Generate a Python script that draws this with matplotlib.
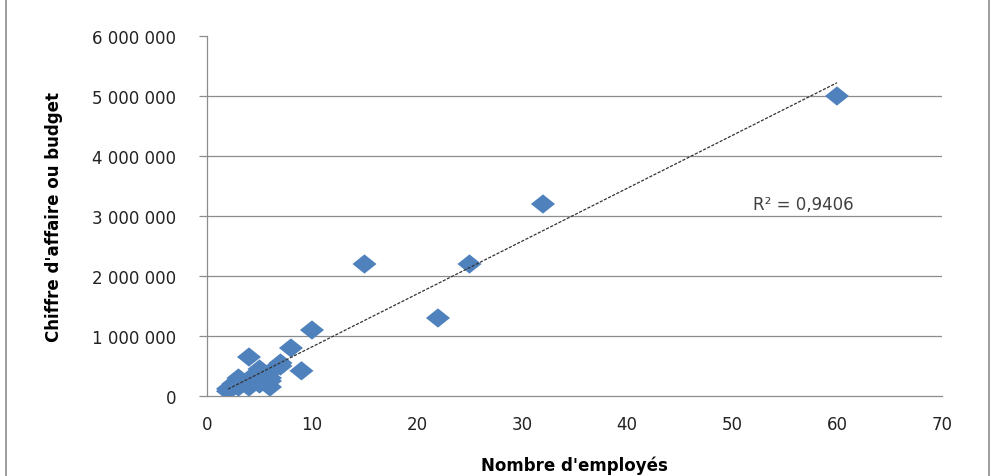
import numpy as np
import matplotlib.pyplot as plt
from matplotlib.lines import Line2D

plt.rcParams['font.family'] = ['DejaVu Sans']

# Data
employes = [2, 2, 2.5, 3, 3, 3, 4, 4, 4, 5, 5, 5, 5.5, 6, 6, 6, 6, 7, 7, 8, 9, 10, 15, 22, 25, 32, 60]
budget_m = [0.08, 0.12, 0.2, 0.3, 0.15, 0.25, 0.65, 0.15, 0.28, 0.45, 0.3, 0.2, 0.35, 0.15, 0.3,
            0.4, 0.25, 0.5, 0.55, 0.8, 0.42, 1.1, 2.2, 1.3, 2.2, 3.2, 5.0]
r2_label = "R² = 0,9406"

x = np.array(employes)
y = np.array(budget_m) * 1e6

fig = plt.figure(figsize=(9.97, 4.77), dpi=100)
ax = fig.add_axes([0.2076, 0.1677, 0.7372, 0.7547])

# Excel-like diamond, a bit wider than tall
diamond = [(-1, 0), (0, 0.8), (1, 0), (0, -0.8), (-1, 0)]
ax.scatter(x, y, marker=diamond, s=300, color='#4F81BD', edgecolors='none', zorder=3)

# linear trendline
a, b = np.polyfit(x, y, 1)
xs = np.array([x.min(), x.max()])
ax.plot(xs, a * xs + b, color='#333333', lw=0.9, ls=(0, (2.5, 1.2)), zorder=4)

ax.text(56.8, 3.2e6, r2_label, fontsize=12, color='#404040', ha='center', va='center')

ax.set_xlim(0, 70)
ax.set_ylim(0, 6e6)
ax.set_xticks(range(0, 71, 10))
ax.set_xticks([0], minor=True)
ax.set_yticks(np.arange(0, 6.01e6, 1e6))
ax.set_yticklabels([f"{int(v):,}".replace(",", " ") for v in np.arange(0, 6.01e6, 1e6)])
for v in np.arange(1e6, 5.01e6, 1e6):
    ax.axhline(v, color='#8c8c8c', lw=0.9, zorder=1)

for s in ['top', 'right']:
    ax.spines[s].set_visible(False)
for s in ['left', 'bottom']:
    ax.spines[s].set_color('#8c8c8c')
    ax.spines[s].set_linewidth(0.9)
ax.tick_params(axis='both', colors='#8c8c8c', labelcolor='#222222', labelsize=12, width=0.9)
ax.tick_params(axis='y', length=6, pad=16)
ax.tick_params(axis='x', which='major', length=0, pad=14)
ax.tick_params(axis='x', which='minor', length=5, color='#8c8c8c', width=0.9)

ax.set_xlabel("Nombre d'employés", fontsize=12, fontweight='bold', labelpad=16)
ax.set_ylabel("Chiffre d'affaire ou budget", fontsize=12, fontweight='bold', labelpad=21)

# outer frame
fig.add_artist(Line2D([0.006, 0.006], [0, 1], color='#8c8c8c', lw=1.2, transform=fig.transFigure))
fig.add_artist(Line2D([0.992, 0.992], [0, 1], color='#8c8c8c', lw=1.2, transform=fig.transFigure))

fig.savefig('out.png', dpi=100)
